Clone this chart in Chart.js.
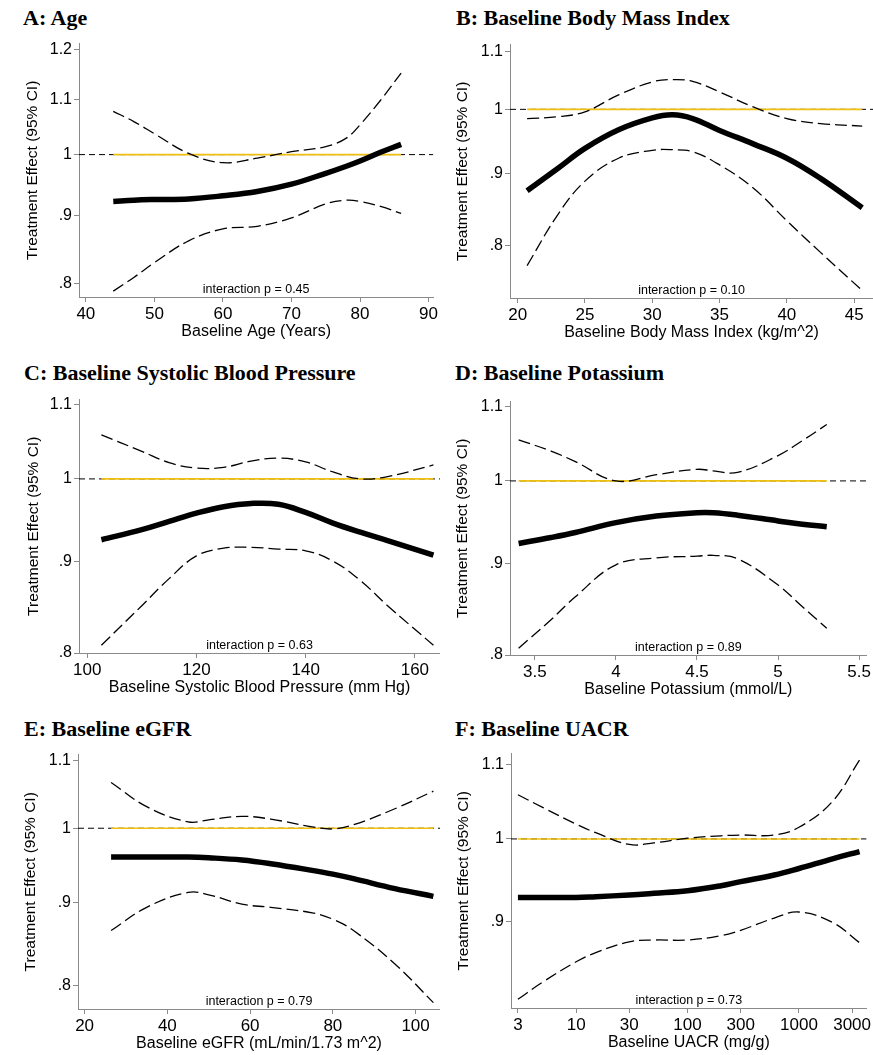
<!DOCTYPE html>
<html>
<head>
<meta charset="utf-8">
<script src="https://cdn.jsdelivr.net/npm/chart.js@4.4.0/dist/chart.umd.min.js"></script>
<style>
  body { margin: 0; width: 873px; height: 1055px; overflow: hidden; background: #fff; position: relative; }
  .ttl { position: absolute; font: bold 22px "Liberation Serif", "Times New Roman", serif; line-height: 22px; color: #000; white-space: nowrap; }
  canvas { position: absolute; }
</style>
</head>
<body>
<div class="ttl" style="left:23px;top:7px">A: Age</div>
<div class="ttl" style="left:456px;top:7px">B: Baseline Body Mass Index</div>
<div class="ttl" style="left:24px;top:362px">C: Baseline Systolic Blood Pressure</div>
<div class="ttl" style="left:455px;top:362px">D: Baseline Potassium</div>
<div class="ttl" style="left:24px;top:718px">E: Baseline eGFR</div>
<div class="ttl" style="left:455px;top:718px">F: Baseline UACR</div>

<canvas id="cA"></canvas>
<canvas id="cB"></canvas>
<canvas id="cC"></canvas>
<canvas id="cD"></canvas>
<canvas id="cE"></canvas>
<canvas id="cF"></canvas>

<script>
// A: age
const ageX   = [44, 47, 50, 55, 60, 65, 70, 75, 78, 80, 83, 86];
const ageEst = [0.922, 0.924, 0.925, 0.926, 0.931, 0.938, 0.950, 0.968, 0.980, 0.989, 1.004, 1.018];
const ageLo  = [0.789, 0.808, 0.829, 0.861, 0.879, 0.883, 0.896, 0.918, 0.924, 0.922, 0.914, 0.903];
const ageHi  = [1.078, 1.059, 1.037, 1.002, 0.986, 0.994, 1.005, 1.014, 1.029, 1.053, 1.099, 1.152];
const ageTicks = [40, 50, 60, 70, 80, 90];

// B: BMI
const bmiX   = [20.7, 23, 25, 27.5, 30, 31.5, 33, 35, 37.5, 40, 42.5, 45.6];
const bmiEst = [0.875, 0.908, 0.938, 0.967, 0.986, 0.991, 0.985, 0.966, 0.945, 0.923, 0.893, 0.851];
const bmiLo  = [0.774, 0.842, 0.889, 0.923, 0.935, 0.936, 0.933, 0.913, 0.879, 0.833, 0.791, 0.743];
const bmiHi  = [0.985, 0.988, 0.996, 1.024, 1.046, 1.050, 1.047, 1.029, 1.004, 0.985, 0.977, 0.973];
const bmiTicks = [20, 25, 30, 35, 40, 45];

// C: systolic blood pressure
const sbpX   = [102.6, 110, 115, 120, 125, 130, 135, 140, 145, 150, 155, 163.4];
const sbpEst = [0.925, 0.937, 0.947, 0.957, 0.965, 0.969, 0.968, 0.958, 0.945, 0.934, 0.924, 0.907];
const sbpLo  = [0.808, 0.850, 0.880, 0.906, 0.915, 0.916, 0.914, 0.912, 0.900, 0.878, 0.850, 0.808];
const sbpHi  = [1.058, 1.036, 1.021, 1.014, 1.015, 1.023, 1.027, 1.022, 1.009, 1.000, 1.003, 1.018];
const sbpTicks = [100, 120, 140, 160];

// D: potassium
const kX   = [3.4, 3.6, 3.75, 4, 4.25, 4.5, 4.6, 4.75, 5, 5.15, 5.3];
const kEst = [0.923, 0.930, 0.936, 0.948, 0.956, 0.960, 0.960, 0.957, 0.950, 0.946, 0.943];
const kLo  = [0.807, 0.837, 0.862, 0.898, 0.906, 0.908, 0.909, 0.905, 0.875, 0.851, 0.828];
const kHi  = [1.054, 1.039, 1.025, 1.000, 1.008, 1.015, 1.013, 1.011, 1.033, 1.053, 1.075];
const kTicks = [3.5, 4, 4.5, 5, 5.5];

// E: eGFR
const egfrX   = [26.4, 35, 45, 50, 58, 65, 75, 80, 85, 95, 104.3];
const egfrEst = [0.960, 0.960, 0.960, 0.959, 0.956, 0.951, 0.942, 0.937, 0.931, 0.918, 0.908];
const egfrLo  = [0.865, 0.894, 0.913, 0.910, 0.898, 0.894, 0.887, 0.879, 0.865, 0.825, 0.781];
const egfrHi  = [1.067, 1.031, 1.009, 1.012, 1.017, 1.013, 1.002, 0.999, 1.005, 1.028, 1.054];
const egfrTicks = [20, 40, 60, 80, 100];

// F: UACR (log x)
const uacrX   = [3, 5, 10, 15, 30, 50, 100, 200, 300, 600, 1000, 2000, 3500];
const uacrEst = [0.928, 0.928, 0.928, 0.929, 0.931, 0.933, 0.936, 0.942, 0.947, 0.955, 0.963, 0.975, 0.984];
const uacrLo  = [0.815, 0.833, 0.855, 0.865, 0.877, 0.879, 0.879, 0.884, 0.890, 0.904, 0.911, 0.899, 0.876];
const uacrHi  = [1.058, 1.041, 1.019, 1.008, 0.993, 0.995, 1.001, 1.004, 1.005, 1.005, 1.015, 1.049, 1.106];
const uacrTicks = [3, 10, 30, 100, 300, 1000, 3000];

const yTicks5 = [0.8, 0.9, 1, 1.1, 1.2];
const yTicks4 = [0.8, 0.9, 1, 1.1];
const yTicks3 = [0.9, 1, 1.1];
const refValue = 1;

const sans = '"Liberation Sans", Arial, Helvetica, sans-serif';
const axisGray = '#8a8a8a';
const yellow = '#f0c010';

// Stata style labels: .8 .9 1 1.1
function fmtY(v) {
  const s = String(Math.round(v * 100) / 100);
  return s.startsWith('0.') ? s.slice(1) : s;
}

// "interaction p = ..." text just above the x axis
const pText = {
  id: 'ptext',
  afterDatasetsDraw(chart, args, o) {
    const a = chart.chartArea, ctx = chart.ctx;
    ctx.save();
    ctx.font = '12.5px ' + sans;
    ctx.fillStyle = '#000';
    ctx.textAlign = 'center';
    ctx.textBaseline = 'alphabetic';
    ctx.fillText(o.text, (a.left + a.right) / 2, a.bottom - 4.5);
    ctx.restore();
  }
};

function pts(xs, ys) { return xs.map((x, i) => ({ x: x, y: ys[i] })); }

function panel(id, p) {
  const cv = document.getElementById(id);
  cv.width = p.w; cv.height = p.h;
  cv.style.left = p.left + 'px'; cv.style.top = p.top + 'px';
  const xs = p.x, n = xs.length;
  const axisLine = { display: true, drawOnChartArea: false, drawTicks: true, tickLength: 5, color: axisGray };
  new Chart(cv, {
    type: 'line',
    data: {
      datasets: [
        { data: pts(xs, p.est), borderColor: '#000', borderWidth: 5.5 },
        { data: pts(xs, p.hi), borderColor: '#000', borderWidth: 1.3, borderDash: [12, 5] },
        { data: pts(xs, p.lo), borderColor: '#000', borderWidth: 1.3, borderDash: [12, 5] },
        { data: [{ x: xs[0], y: refValue }, { x: xs[n - 1], y: refValue }], borderColor: yellow, borderWidth: 1.6, tension: 0 },
        { data: [{ x: p.xMin, y: refValue }, { x: p.xMax, y: refValue }], borderColor: '#000', borderWidth: 1, borderDash: [6, 4], tension: 0 }
      ]
    },
    options: {
      responsive: false,
      animation: false,
      layout: { padding: { top: 10, left: 0, right: 0, bottom: 0 }, autoPadding: false },
      elements: { point: { radius: 0 }, line: { fill: false, borderCapStyle: 'butt', tension: 0.4 } },
      plugins: { legend: { display: false }, tooltip: { enabled: false }, ptext: { text: p.ptext } },
      scales: {
        x: {
          type: p.xLog ? 'logarithmic' : 'linear',
          min: p.xMin, max: p.xMax,
          afterBuildTicks: s => { s.ticks = p.xTicks.map(v => ({ value: v })); },
          afterFit: s => { s.height = 45; },
          ticks: { font: { family: sans, size: 17 }, color: '#000', padding: 2, maxRotation: 0, autoSkip: false, callback: v => String(v) },
          grid: axisLine,
          border: { display: true, color: axisGray, width: 1 },
          title: { display: true, text: p.xTitle, font: { family: sans, size: 16 }, color: '#000', padding: { top: 0, bottom: 1 } }
        },
        y: {
          type: 'logarithmic',
          min: p.yMin, max: p.yMax,
          afterBuildTicks: s => { s.ticks = p.yTicks.map(v => ({ value: v })); },
          afterFit: s => { s.width = p.yw; },
          ticks: { font: { family: sans, size: 16 }, color: '#000', padding: 2, autoSkip: false, callback: v => fmtY(v) },
          grid: axisLine,
          border: { display: true, color: axisGray, width: 1 },
          title: { display: true, text: 'Treatment Effect (95% CI)', font: { family: sans, size: 15.5 }, color: '#000', padding: { top: p.ytp, bottom: 0 } }
        }
      }
    },
    plugins: [pText]
  });
}

panel('cA', { left: 0, top: 32, w: 440, h: 310, yw: 79, ytp: 23,
  x: ageX, est: ageEst, lo: ageLo, hi: ageHi, xMin: 39, xMax: 90.7, xTicks: ageTicks,
  yMin: 0.781, yMax: 1.2125, yTicks: yTicks5, xTitle: 'Baseline Age (Years)', ptext: 'interaction p = 0.45' });

panel('cB', { left: 440, top: 33, w: 433, h: 310, yw: 70, ytp: 13.5,
  x: bmiX, est: bmiEst, lo: bmiLo, hi: bmiHi, xMin: 19.43, xMax: 46.4, xTicks: bmiTicks,
  yMin: 0.734, yMax: 1.112, yTicks: yTicks4, xTitle: 'Baseline Body Mass Index (kg/m^2)', ptext: 'interaction p = 0.10' });

panel('cC', { left: 0, top: 388, w: 440, h: 310, yw: 79, ytp: 24,
  x: sbpX, est: sbpEst, lo: sbpLo, hi: sbpHi, xMin: 98.5, xMax: 164.6, xTicks: sbpTicks,
  yMin: 0.8, yMax: 1.107, yTicks: yTicks4, xTitle: 'Baseline Systolic Blood Pressure (mm Hg)', ptext: 'interaction p = 0.63' });

panel('cD', { left: 440, top: 390, w: 433, h: 310, yw: 70, ytp: 13.5,
  x: kX, est: kEst, lo: kLo, hi: kHi, xMin: 3.347, xMax: 5.547, xTicks: kTicks,
  yMin: 0.8, yMax: 1.107, yTicks: yTicks4, xTitle: 'Baseline Potassium (mmol/L)', ptext: 'interaction p = 0.89' });

panel('cE', { left: 0, top: 743, w: 440, h: 311, yw: 78, ytp: 21,
  x: egfrX, est: egfrEst, lo: egfrLo, hi: egfrHi, xMin: 18.4, xMax: 105.9, xTicks: egfrTicks,
  yMin: 0.774, yMax: 1.11, yTicks: yTicks4, xTitle: 'Baseline eGFR (mL/min/1.73 m^2)', ptext: 'interaction p = 0.79' });

panel('cF', { left: 440, top: 742, w: 433, h: 311, yw: 71, ytp: 14,
  x: uacrX, est: uacrEst, lo: uacrLo, hi: uacrHi, xMin: 2.6, xMax: 4050, xLog: true, xTicks: uacrTicks,
  yMin: 0.806, yMax: 1.115, yTicks: yTicks3, xTitle: 'Baseline UACR (mg/g)', ptext: 'interaction p = 0.73' });
</script>
</body>
</html>
